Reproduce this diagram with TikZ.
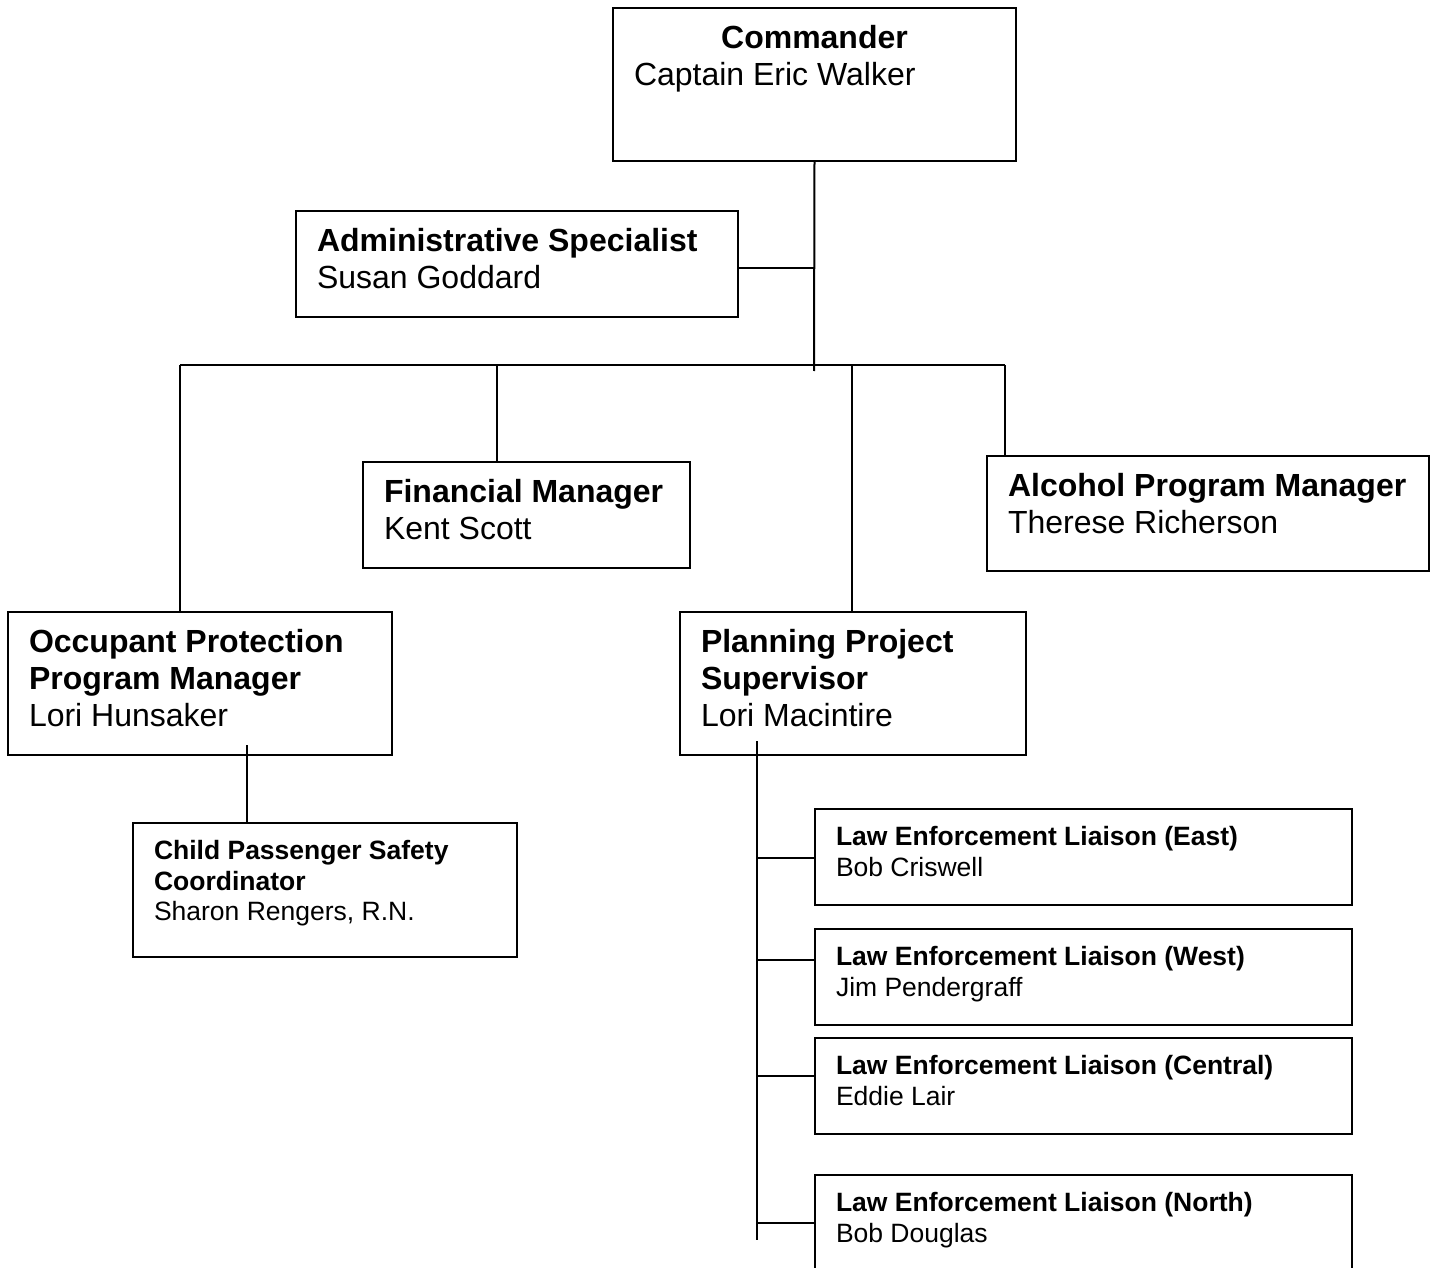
\documentclass[tikz,border=0pt]{standalone}
\usepackage{fontspec}
\setmainfont{Liberation Sans}
\tikzset{
    post-box/.style = {draw, line width=1pt, rectangle, anchor=north west, inner xsep=10.5pt, inner ysep=8.5pt},
    big-text/.style = {font=\fontsize{16}{18.6}\selectfont},
    small-text/.style = {font=\fontsize{13.25}{15.4}\selectfont},
    link/.style = {line width=1pt},
}
\newcommand{\postbody}[3]{\begin{minipage}[t][#2][t]{#1}\raggedright #3\end{minipage}}

\begin{document}
\begin{tikzpicture}[x=0.5pt, y=-0.5pt]
\useasboundingbox (0,0) rectangle (1437,1268);
% boxes
\node[post-box, big-text] (cmd) at (612,7) {\postbody{180.5pt}{59.5pt}{{\centering\textbf{Commander}\par}Captain Eric Walker}};
\node[post-box, big-text] (adm) at (295,210) {\postbody{200pt}{36pt}{\textbf{Administrative Specialist}\\Susan Goddard}};
\node[post-box, big-text] (fin) at (362,461) {\postbody{142.5pt}{36pt}{\textbf{Financial Manager}\\Kent Scott}};
\node[post-box, big-text] (alc) at (986,455) {\postbody{200pt}{40.5pt}{\textbf{Alcohol Program Manager}\\Therese Richerson}};
\node[post-box, big-text] (occ) at (7,611) {\postbody{171pt}{54.5pt}{\textbf{Occupant Protection Program Manager}\\Lori Hunsaker}};
\node[post-box, big-text] (pln) at (679,611) {\postbody{152pt}{54.5pt}{\textbf{Planning Project Supervisor}\\Lori Macintire}};
\node[post-box, small-text] (cps) at (132,822) {\postbody{171pt}{50pt}{\textbf{Child Passenger Safety Coordinator}\\Sharon Rengers, R.N.}};
\node[post-box, small-text] (le-e) at (814,808) {\postbody{247.5pt}{31pt}{\textbf{Law Enforcement Liaison (East)}\\Bob Criswell}};
\node[post-box, small-text] (le-w) at (814,928) {\postbody{247.5pt}{31pt}{\textbf{Law Enforcement Liaison (West)}\\Jim Pendergraff}};
\node[post-box, small-text] (le-c) at (814,1037) {\postbody{247.5pt}{31pt}{\textbf{Law Enforcement Liaison (Central)}\\Eddie Lair}};
\node[post-box, small-text] (le-n) at (814,1174) {\postbody{247.5pt}{33.5pt}{\textbf{Law Enforcement Liaison (North)}\\Bob Douglas}};

% junction points
\coordinate (adm-j) at (737,268);
\coordinate (bar-l) at (180,365);
\coordinate (bar-fin) at (497,365);
\coordinate (bar-pln) at (852,365);
\coordinate (bar-r) at (1005,365);
\coordinate (trunk-end) at (814,371);
\coordinate (occ-sub) at (247,745);
\coordinate (pln-sub) at (757,741);
\coordinate (pln-end) at (757,1240);
\coordinate (br-e) at (757,858);
\coordinate (br-w) at (757,960);
\coordinate (br-c) at (757,1076);
\coordinate (br-n) at (757,1223);

% connectors
\draw[link] (cmd.south) -- (trunk-end);
\draw[link] (adm-j) -- (adm-j -| cmd.south);
\draw[link] (bar-l) -- (bar-r);
\draw[link] (bar-l) -- (bar-l |- occ.north);
\draw[link] (bar-fin) -- (bar-fin |- fin.north);
\draw[link] (bar-pln) -- (bar-pln |- pln.north);
\draw[link] (bar-r) -- (bar-r |- alc.north);
\draw[link] (occ-sub) -- (occ-sub |- cps.north);
\draw[link] (pln-sub) -- (pln-end);
\draw[link] (br-e) -- (br-e -| le-e.west);
\draw[link] (br-w) -- (br-w -| le-w.west);
\draw[link] (br-c) -- (br-c -| le-c.west);
\draw[link] (br-n) -- (br-n -| le-n.west);
\end{tikzpicture}
\end{document}
